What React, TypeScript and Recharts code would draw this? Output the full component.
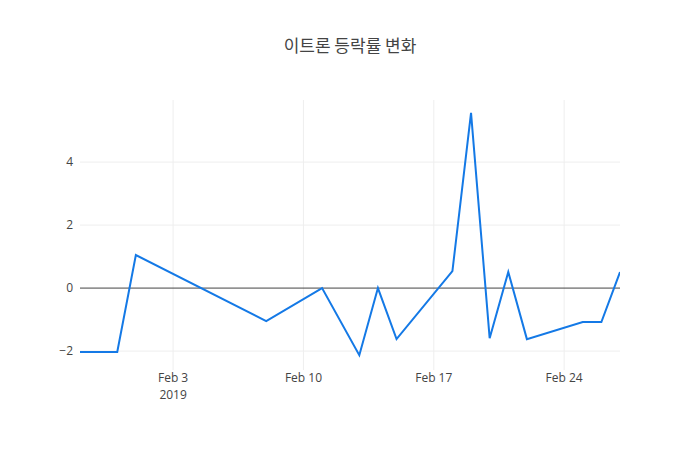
import React from "react";
import { LineChart, Line, XAxis, YAxis, ReferenceLine } from "recharts";

const dates = [
  "2019-01-29", "2019-01-31", "2019-02-01", "2019-02-08", "2019-02-11",
  "2019-02-13", "2019-02-14", "2019-02-15", "2019-02-18", "2019-02-19",
  "2019-02-20", "2019-02-21", "2019-02-22", "2019-02-25", "2019-02-26",
  "2019-02-27",
];
const changes = [
  -2.03, -2.03, 1.05, -1.05, 0.0,
  -2.13, 0.0, -1.62, 0.54, 5.56,
  -1.59, 0.51, -1.62, -1.08, -1.08,
  0.51,
];
const xTickDates = ["2019-02-03", "2019-02-10", "2019-02-17", "2019-02-24"];
const xTickLabels = ["Feb 3", "Feb 10", "Feb 17", "Feb 24"];
const yTicks = [-2, 0, 2, 4];
const title = "이트론 등락률 변화";

const toTs = (s: string) => {
  const [y, m, d] = s.split("-").map(Number);
  return Date.UTC(y, m - 1, d);
};

const data = dates.map((d, i) => ({ t: toTs(d), v: changes[i] }));
const xTicks = xTickDates.map(toTs);
const xDomain = [toTs("2019-01-29"), toTs("2019-02-27")];

const FONT = "'Open Sans', 'Noto Sans', sans-serif";

const XTick = (props: any) => {
  const { x, y, payload } = props;
  const i = xTicks.indexOf(payload.value);
  const label = i >= 0 ? xTickLabels[i] : "";
  return (
    <g>
      <text x={x} y={y + 4} textAnchor="middle" fill="#444" fontSize={12} fontFamily={FONT}>
        {label}
      </text>
      {i === 0 && (
        <text x={x} y={y + 21} textAnchor="middle" fill="#444" fontSize={12} fontFamily={FONT}>
          2019
        </text>
      )}
    </g>
  );
};

const YTick = (props: any) => {
  const { x, y, payload } = props;
  const v = payload.value;
  const s = v < 0 ? "\u2212" + Math.abs(v) : String(v);
  return (
    <text x={x + 1} y={y + 4} textAnchor="end" fill="#444" fontSize={12} fontFamily={FONT}>
      {s}
    </text>
  );
};

export default function App() {
  return (
    <div style={{ margin: -8, width: 700, height: 450, background: "#fff", position: "relative" }}>
      <div
        style={{
          position: "absolute",
          top: 32,
          left: 0,
          width: 700,
          textAlign: "center",
          fontSize: 17,
          color: "#444",
          fontFamily: "'Noto Sans CJK KR', 'Noto Sans', sans-serif",
        }}
      >
        {title}
      </div>
      <LineChart
        width={700}
        height={450}
        data={data}
        margin={{ top: 100, right: 80, bottom: 40, left: 50 }}
      >
        <XAxis
          dataKey="t"
          type="number"
          scale="time"
          domain={xDomain}
          ticks={xTicks}
          axisLine={false}
          tickLine={false}
          tick={<XTick />}
          height={40}
          allowDataOverflow
        />
        <YAxis
          type="number"
          domain={[-2.6, 5.97]}
          ticks={yTicks}
          axisLine={false}
          tickLine={false}
          tick={<YTick />}
          width={30}
          allowDataOverflow
        />
        {xTicks.map((t) => (
          <ReferenceLine key={"x" + t} x={t} stroke="#eee" strokeWidth={1} />
        ))}
        {yTicks.filter((v) => v !== 0).map((v) => (
          <ReferenceLine key={"y" + v} y={v} stroke="#eee" strokeWidth={1} />
        ))}
        <ReferenceLine y={0} stroke="#444" strokeWidth={1} strokeOpacity={1} />
        <Line
          type="linear"
          dataKey="v"
          stroke="#1479e6"
          strokeWidth={2}
          dot={false}
          isAnimationActive={false}
        />
      </LineChart>
    </div>
  );
}
